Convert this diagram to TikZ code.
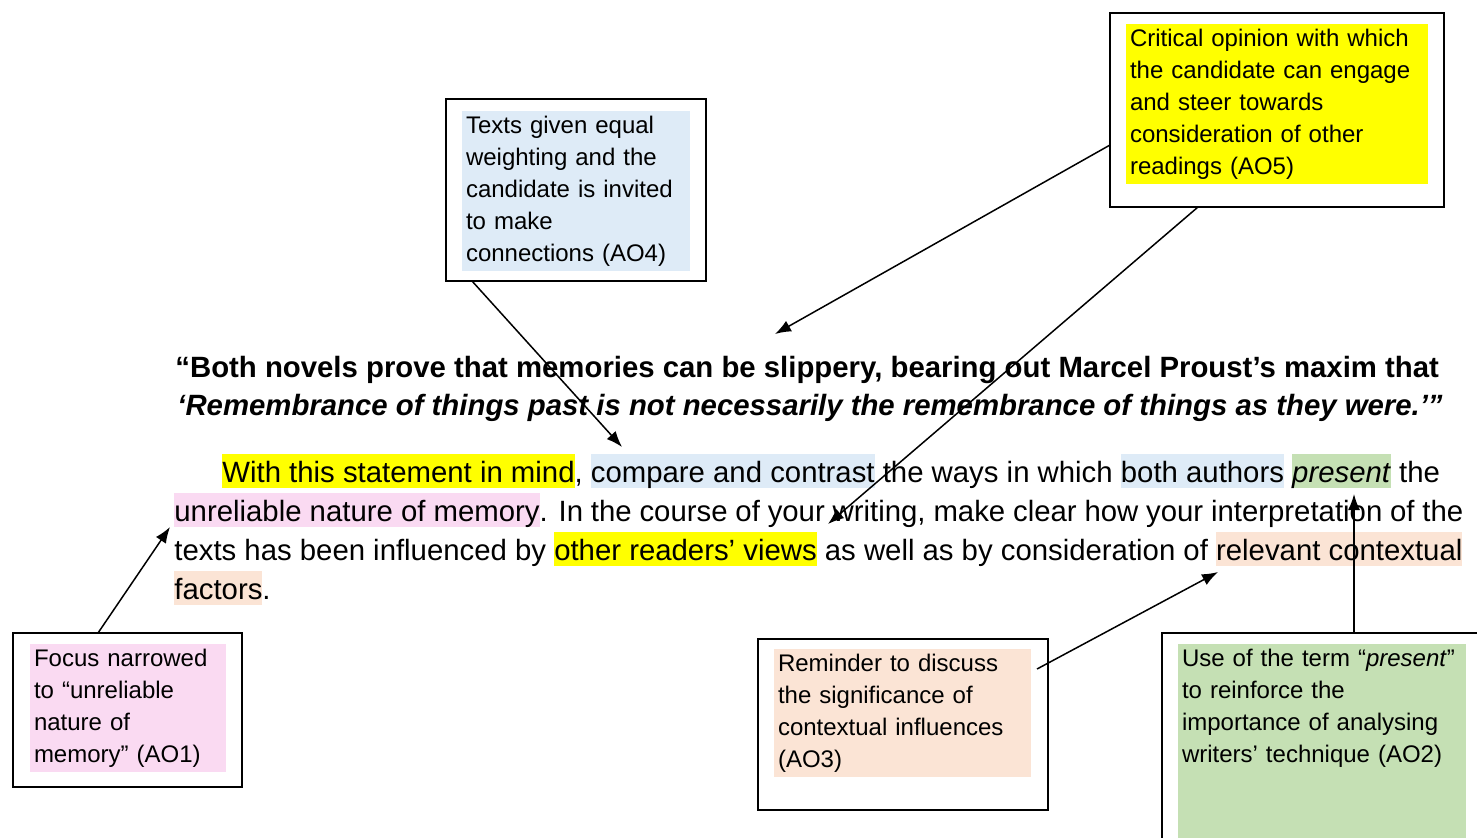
\documentclass[tikz,border=0pt]{standalone}
\usepackage{fontspec}
\setmainfont{Liberation Sans}
\usetikzlibrary{arrows.meta}
\definecolor{hlblue}{HTML}{DEEBF7}
\definecolor{hlyellow}{HTML}{FFFF00}
\definecolor{hlpink}{HTML}{FADAF2}
\definecolor{hlpeach}{HTML}{FBE4D5}
\definecolor{hlgreen}{HTML}{C5E0B4}
\newcommand{\hlt}[2]{{\setlength{\fboxsep}{0pt}\colorbox{#1}{\rule[-3pt]{0pt}{17pt}#2}}}
\tikzstyle{callout}=[draw, line width=1pt, inner sep=0pt, outer sep=0pt]
\tikzstyle{note}=[inner xsep=2pt, inner ysep=0pt, outer sep=0pt, anchor=north west, align=left, font=\fontsize{12pt}{16pt}\selectfont, execute at begin node=\strut, execute at end node=\strut]
\tikzstyle{line}=[anchor=base west, inner sep=0pt, font=\fontsize{14.67pt}{19.5pt}\selectfont]
\tikzstyle{pointer}=[line width=0.75pt, -{Latex[length=8pt, width=6pt]}]

\begin{document}
\begin{tikzpicture}[x=0.5pt, y=-0.5pt]
    \clip (0,0) rectangle (1477,837);
    % comment boxes
    \node [callout, minimum width=130pt, minimum height=91pt] (ao4) at (576,190) {};
    \node [note, fill=hlblue, text width=110pt] (ao4txt) at (462,111) {Texts given equal\\weighting and the\\candidate is invited\\to make\\connections (AO4)};
    \node [callout, minimum width=167pt, minimum height=97pt] (ao5) at (1277,110) {};
    \node [note, fill=hlyellow, text width=147pt] (ao5txt) at (1126,24) {Critical opinion with which\\the candidate can engage\\and steer towards\\consideration of other\\readings (AO5)};
    \node [callout, minimum width=114.5pt, minimum height=77pt] (ao1) at (127.5,710) {};
    \node [note, fill=hlpink, text width=94pt] (ao1txt) at (30,644) {Focus narrowed\\to “unreliable\\nature of\\memory” (AO1)};
    \node [callout, minimum width=145pt, minimum height=85.5pt] (ao3) at (903,724.5) {};
    \node [note, fill=hlpeach, text width=124.5pt] (ao3txt) at (774,649) {Reminder to discuss\\the significance of\\contextual influences\\(AO3)};
    \node [callout, minimum width=169pt, minimum height=113.5pt] (ao2) at (1331,746.5) {};
    \node [note, fill=hlgreen, text width=140pt] (ao2txt) at (1178,644) {Use of the term “\textit{present}”\\to reinforce the\\importance of analysing\\writers’ technique (AO2)\rule[-80pt]{0pt}{1pt}};
    % the question
    \node [line, font=\fontsize{14.67pt}{19.5pt}\selectfont\bfseries] (q1) at (175,377) {“Both novels prove that memories can be slippery, bearing out Marcel Proust’s maxim that};
    \node [line, font=\fontsize{14.67pt}{19.5pt}\selectfont\bfseries\itshape] (q2) at (177,415) {‘Remembrance of things past is not necessarily the remembrance of things as they were.’”};
    \node [line] (l1) at (222,482) {\hlt{hlyellow}{With this statement in mind}, \hlt{hlblue}{compare and contrast} the ways in which \hlt{hlblue}{both authors} \hlt{hlgreen}{\textit{present}} the};
    \node [line] (l2) at (174,521) {\hbox to 644.5pt{\hlt{hlpink}{unreliable nature of memory}. In the course of your writing, make clear how your interpretation of the}};
    \node [line] (l3) at (174,560) {\hbox to 644pt{texts has been influenced by \hlt{hlyellow}{other readers’ views} as well as by consideration of \hlt{hlpeach}{relevant contextual}}};
    \node [line] (l4) at (174,599) {\hlt{hlpeach}{factors}.};
    % arrow targets
    \coordinate (c4) at (622,447);
    \coordinate (c5a) at (775,334);
    \coordinate (c5b) at (828,524);
    \coordinate (c1) at (170,527);
    \coordinate (c3) at (1218,572);
    \coordinate (c2) at (1354,494);
    \draw [pointer] ([xshift=13pt]ao4.south west) -- (c4);
    \draw [pointer] ([yshift=-17.5pt]ao5.west) -- (c5a);
    \draw [pointer] ([xshift=-39.5pt]ao5.south) -- (c5b);
    \draw [pointer] ([xshift=-14.75pt]ao1.north) -- (c1);
    \draw [pointer] ([shift={(3pt,-10pt)}]ao3txt.north east) -- (c3);
    \draw [pointer] ([xshift=11.5pt]ao2.north) -- (c2);
\end{tikzpicture}
\end{document}
